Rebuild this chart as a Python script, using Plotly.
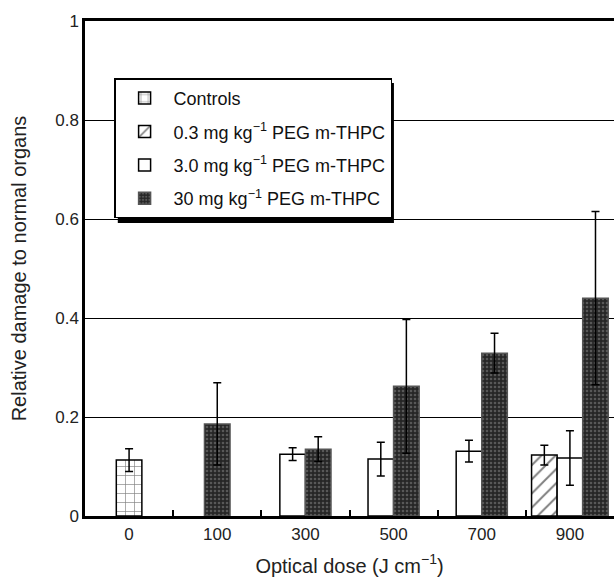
import plotly.graph_objects as go

# ---- data ----
doses = ["0", "100", "300", "500", "700", "900"]

series_names = [
    "Controls",
    "0.3 mg kg<sup>−1</sup> PEG m-THPC",
    "3.0 mg kg<sup>−1</sup> PEG m-THPC",
    "30 mg kg<sup>−1</sup> PEG m-THPC",
]

controls_vals = [0.113, None, None, None, None, None]
controls_err = [0.023, None, None, None, None, None]

d03_vals = [None, None, None, None, None, 0.123]
d03_err = [None, None, None, None, None, 0.020]

d3_vals = [None, None, 0.125, 0.115, 0.131, 0.117]
d3_err = [None, None, 0.013, 0.034, 0.022, 0.055]

d30_vals = [None, 0.186, 0.135, 0.262, 0.329, 0.440]
d30_err = [None, 0.083, 0.025, 0.135, 0.040, 0.175]

y_ticks = [0, 0.2, 0.4, 0.6, 0.8, 1]
y_ticktext = ["0", "0.2", "0.4", "0.6", "0.8", "1"]

# ---- styling ----
FONT = "Liberation Sans, Arial, sans-serif"
BAR_W = 0.29

all_vals = [controls_vals, d03_vals, d3_vals, d30_vals]
all_errs = [controls_err, d03_err, d3_err, d30_err]

styles = [
    dict(color="white", line=dict(color="black", width=1.5),
         pattern=dict(shape="+", fgcolor="black", bgcolor="white", size=9, solidity=0.14)),
    dict(color="white", line=dict(color="black", width=1.5),
         pattern=dict(shape="/", fgcolor="black", bgcolor="white", size=10, solidity=0.2)),
    dict(color="white", line=dict(color="black", width=1.5)),
    dict(color="#2b2b2b", line=dict(color="#555555", width=1.5),
         pattern=dict(shape=".", fgcolor="#8a8a8a", bgcolor="#262626", size=4, solidity=0.35)),
]

# centre the bars that are present in each dose group
offsets = [[0.0] * len(doses) for _ in all_vals]
for j in range(len(doses)):
    present = [k for k, v in enumerate(all_vals) if v[j] is not None]
    n = len(present)
    for i, k in enumerate(present):
        offsets[k][j] = -n * BAR_W / 2 + i * BAR_W

fig = go.Figure()
for k, name in enumerate(series_names):
    fig.add_trace(go.Bar(
        x=doses, y=all_vals[k], name=name,
        width=BAR_W, offset=offsets[k],
        marker=styles[k],
        legendgroup=f"g{k}",
        error_y=dict(type="data", array=all_errs[k], visible=True,
                     color="black", thickness=1.5, width=4),
    ))

# legend drop shadow (paper coordinates)
fig.add_shape(type="rect", xref="paper", yref="paper",
              x0=0.062, x1=0.584, y0=0.592, y1=0.875,
              fillcolor="black", line=dict(width=0), layer="above")

fig.update_layout(
    width=614, height=584,
    margin=dict(l=85, r=0, t=21, b=68),
    paper_bgcolor="white", plot_bgcolor="white",
    font=dict(family=FONT, size=17, color="#222"),
    barmode="overlay",
    showlegend=True,
    legend=dict(
        x=0.055, y=0.884, xanchor="left", yanchor="top",
        bgcolor="white", bordercolor="black", borderwidth=1.5,
        font=dict(family=FONT, size=18, color="#111"),
        traceorder="grouped", tracegroupgap=7, itemwidth=48,
    ),
    xaxis=dict(
        type="category", range=[-0.5, 5.5], automargin=False,
        showline=True, linecolor="black", linewidth=2.5, mirror=True,
        ticks="inside", tickson="boundaries", ticklen=6, tickwidth=1.5, tickcolor="black",
        ticklabelstandoff=1,
        showgrid=False,
        title=dict(text="Optical dose (J cm<sup>−1</sup>)", standoff=16),
    ),
    yaxis=dict(
        range=[0, 1], tickvals=y_ticks, ticktext=y_ticktext, automargin=False,
        showline=True, linecolor="black", linewidth=2.5,
        showgrid=True, gridcolor="black", gridwidth=1.2,
        zeroline=False, ticks="", ticklabelstandoff=0,
        title=dict(text="Relative damage to normal organs", standoff=24),
    ),
)

fig.write_html("out.html",
               config={"displayModeBar": False},
               post_script="document.body.style.margin='0';document.body.style.padding='0';")
